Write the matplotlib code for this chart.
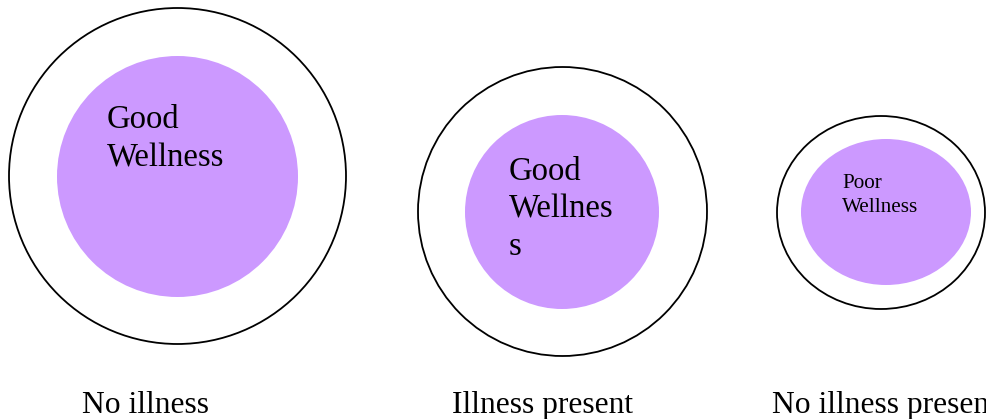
import matplotlib.pyplot as plt
from matplotlib.patches import Ellipse

# labels under each pair of circles and the text inside the purple core
captions = ["No illness", "Illness present", "No illness present"]
inner_lines = [["Good", "Wellness"], ["Good", "Wellnes", "s"], ["Poor", "Wellness"]]

# geometry in pixel units (x right, y down)
outer = [(177.5, 176, 337, 336), (562.5, 211.5, 289, 289), (881, 212.5, 208, 193)]
inner = [(177.5, 176.5, 241, 241), (562, 212, 194, 194), (886, 212, 170, 146)]
text_x = [107, 509, 842]
text_y0 = [128, 180, 188]
text_step = [38, 37.5, 24]
text_size = [23.5, 23.5, 15.2]
caption_x = [82, 452, 772]
caption_y = 413

plt.rcParams['font.family'] = ['Liberation Serif', 'DejaVu Serif']

fig = plt.figure(figsize=(9.87, 4.19), dpi=100)
ax = fig.add_axes([0, 0, 1, 1])
ax.set_xlim(0, 987)
ax.set_ylim(419, 0)
ax.axis('off')

for i in range(3):
    cx, cy, w, h = outer[i]
    ax.add_patch(Ellipse((cx, cy), w, h, facecolor='white', edgecolor='black', lw=1.3))
    cx, cy, w, h = inner[i]
    ax.add_patch(Ellipse((cx, cy), w, h, facecolor='#cc99ff', edgecolor='none'))
    for j, line in enumerate(inner_lines[i]):
        ax.text(text_x[i], text_y0[i] + j * text_step[i], line, fontsize=text_size[i],
                ha='left', va='baseline', color='black')
    # the last caption runs past the right edge, as in the original
    ax.text(caption_x[i], caption_y, captions[i], fontsize=22.7,
            ha='left', va='baseline', color='black', clip_on=False)

fig.savefig('out.png', dpi=100)
